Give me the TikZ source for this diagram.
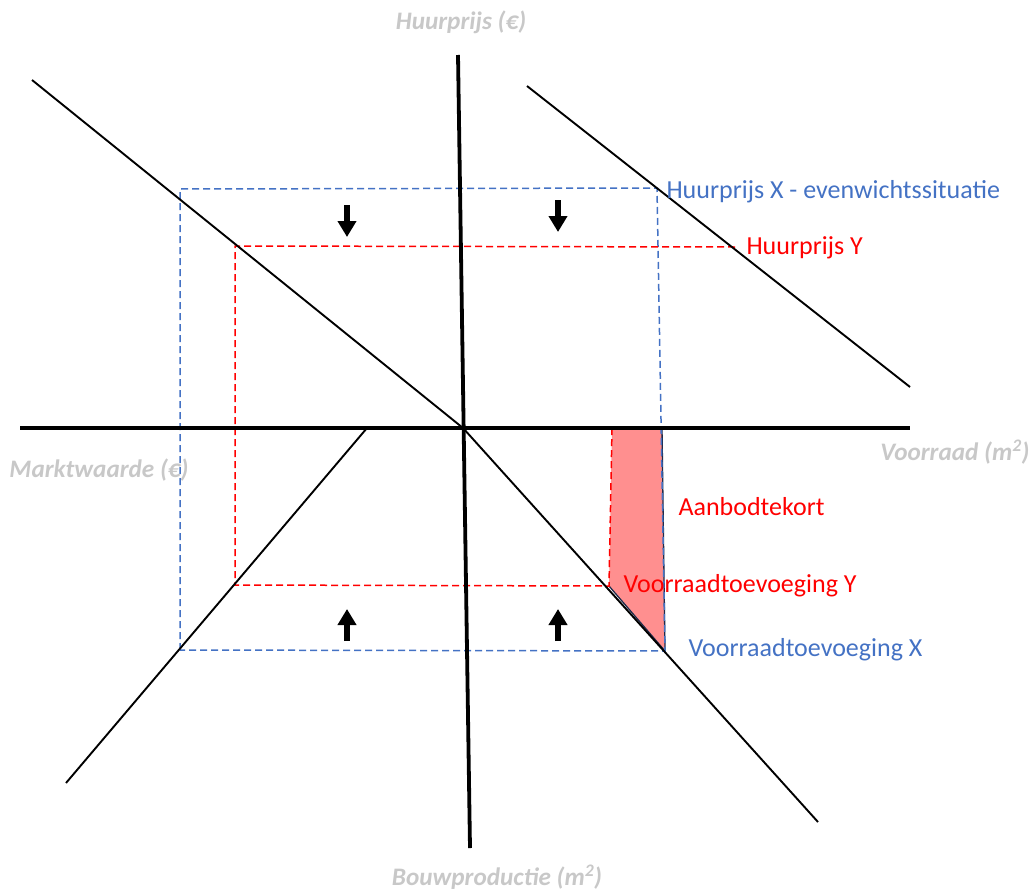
\documentclass[tikz,border=0pt]{standalone}
\usepackage{fontspec}
\setmainfont{Carlito}
\usetikzlibrary{arrows.meta}

\definecolor{officeblue}{HTML}{4472C4}
\definecolor{axisgray}{HTML}{C8C8C8}
\definecolor{tekortfill}{HTML}{FF8F8F}
\definecolor{tekortedge}{HTML}{1F2A4A}

\begin{document}
\begin{tikzpicture}[x=1pt,y=-1pt,
  axis/.style={line width=3.8pt},
  curve/.style={line width=1.9pt},
  xline/.style={officeblue,line width=1.5pt,dash pattern=on 7pt off 4pt},
  yline/.style={red,line width=1.5pt,dash pattern=on 7pt off 4pt},
  axislabel/.style={axisgray,font=\fontsize{25.2}{30}\selectfont\bfseries\itshape},
  xlabel/.style={officeblue,anchor=west,font=\fontsize{26}{31}\selectfont},
  ylabel/.style={red,anchor=west,font=\fontsize{26}{31}\selectfont},
  push/.style={line width=6pt,-{Triangle[width=18pt,length=16pt]}}]
\useasboundingbox (0,0) rectangle (1032,891);

% axes
\coordinate (axT) at (458,55);
\coordinate (axB) at (470,848);
\coordinate (axL) at (20,428);
\coordinate (axR) at (910,428);
\coordinate (O) at (463,428);

% the four curves
\coordinate (huurA) at (32,80);
\coordinate (voorB) at (818,822);
\coordinate (markA) at (527,86);
\coordinate (markB) at (910,387);
\coordinate (bouwA) at (367,428);
\coordinate (bouwB) at (66,783);

% situation X (blue) and Y (red)
\coordinate (xTL) at (180,189);
\coordinate (xTR) at (657,188);
\coordinate (xBR) at (665,651);
\coordinate (xBL) at (180,650);
\coordinate (xTop) at (662,428);
\coordinate (yTL) at (235,246);
\coordinate (yTR) at (735,247);
\coordinate (yBL) at (235,585);
\coordinate (yBR) at (609,586);
\coordinate (yTop) at (612,428);

% shortage area
\fill[tekortfill] (yTop) -- (xTop) -- (xBR) -- (yBR) -- cycle;
\draw[tekortedge,line width=1.3pt] (xTop) -- (xBR) -- (yBR);

\draw[xline] (xBL) -- (xTL) -- (xTR) -- (xBR) -- cycle;
\draw[yline] (yTR) -- (yTL) -- (yBL) -- (yBR) -- (yTop);

\draw[curve] (huurA) -- (O) -- (voorB);
\draw[curve] (markA) -- (markB);
\draw[curve] (bouwA) -- (bouwB);

\draw[axis] (axT) -- (axB);
\draw[axis] (axL) -- (axR);

% shifts
\foreach \x/\a/\b in {347/205/237, 558/200/232}
  \draw[push] (\x,\a) -- (\x,\b);
\foreach \x in {347, 558}
  \draw[push] (\x,641) -- (\x,609);

\node[axislabel] (huurprijs) at (461,22) {Huurprijs (€)};
\node[axislabel] (voorraad) at (955,452) {Voorraad (m\textsuperscript{2})};
\node[axislabel] (marktwaarde) at (99,470) {Marktwaarde (€)};
\node[axislabel] (bouwproductie) at (497,877) {Bouwproductie (m\textsuperscript{2})};

\node[xlabel] (evenwicht) at (663,192) {Huurprijs X - evenwichtssituatie};
\node[ylabel] (huurY) at (743,248) {Huurprijs Y};
\node[ylabel] (tekort) at (675,507) {Aanbodtekort};
\node[ylabel] (toevY) at (620,586) {Voorraadtoevoeging Y};
\node[xlabel] (toevX) at (685,650) {Voorraadtoevoeging X};
\end{tikzpicture}
\end{document}
